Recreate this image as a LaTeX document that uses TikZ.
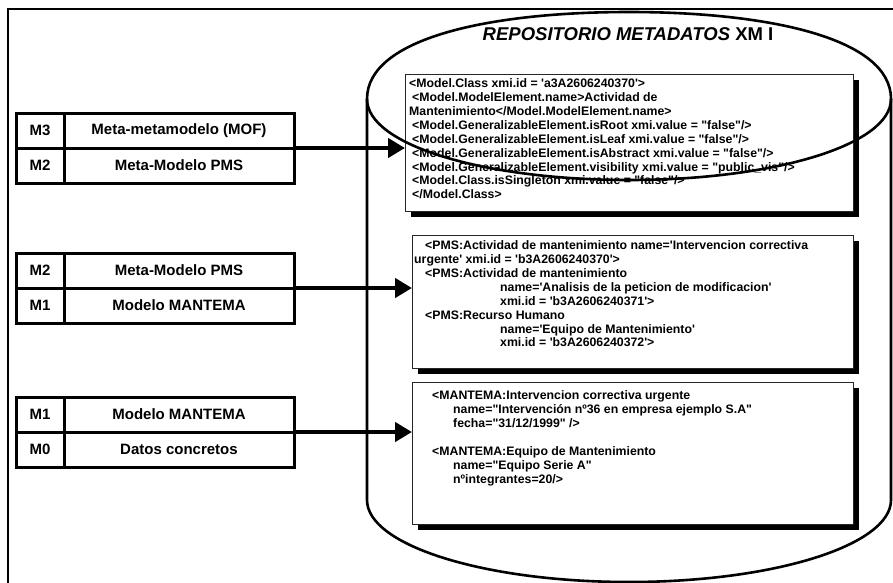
\documentclass[tikz,border=0pt]{standalone}
\usepackage{fontspec}
\setmainfont{Liberation Sans}[Ligatures=TeXOff]
\usetikzlibrary{arrows.meta,positioning,shadows}

\begin{document}
\begin{tikzpicture}[
  x=1pt, y=-1pt,
  font=\bfseries,
  >={Triangle[length=17pt,width=19pt]},
  level/.style={rectangle, draw, line width=3pt, outer sep=0pt, minimum width=48pt, minimum height=35pt, inner sep=0pt, font=\fontsize{15}{17}\selectfont\bfseries},
  layer/.style={level, minimum width=230pt},
  xmibox/.style={rectangle, draw=black!85, line width=0.9pt, fill=white, outer sep=0pt, inner sep=0pt, drop shadow={shadow xshift=6pt, shadow yshift=-6pt, fill=black, opacity=1}},
  xmitext/.style={anchor=north west, inner sep=0pt, align=left, font=\fontsize{12.3}{13.9}\selectfont\bfseries},
  flow/.style={->, line width=4.5pt},
  drum/.style={line width=2.6pt}
]
\useasboundingbox (0,0) rectangle (893,582);
\clip (0,0) rectangle (893,582);
\draw[line width=1.6pt] (8,9) rectangle (910,600);

% repository drum (sides and bottom)
\draw[drum] (367,99) -- (367,500) arc[start angle=180, end angle=360, x radius=262pt, y radius=82pt] -- (891,99);

% metadata boxes
\node[xmibox, anchor=north west, minimum width=448pt, minimum height=137pt] (xmia) at (405,74) {};
\node[xmitext] (xmiatext) at ([shift={(4pt,-4.5pt)}]xmia.north west) {%
<Model.Class xmi.id = 'a3A2606240370'>\\
\hspace*{3pt}<Model.ModelElement.name>Actividad de\\
Mantenimiento</Model.ModelElement.name>\\
\hspace*{3pt}<Model.GeneralizableElement.isRoot xmi.value = "false"/>\\
\hspace*{3pt}<Model.GeneralizableElement.isLeaf xmi.value = "false"/>\\
\hspace*{3pt}<Model.GeneralizableElement.isAbstract xmi.value = "false"/>\\
\hspace*{3pt}<Model.GeneralizableElement.visibility xmi.value = "public\_vis"/>\\
\hspace*{3pt}<Model.Class.isSingleton xmi.value = "false"/>\\
\hspace*{3pt}</Model.Class>};

\node[xmibox, anchor=north west, minimum width=441pt, minimum height=133pt] (xmib) at (412,235) {};
\node[xmitext] (xmibtext) at ([shift={(2pt,-5.5pt)}]xmib.north west) {%
\hspace*{11pt}<PMS:Actividad de mantenimiento name='Intervencion correctiva\\
urgente' xmi.id = 'b3A2606240370'>\\
\hspace*{11pt}<PMS:Actividad de mantenimiento\\
\hspace*{86pt}name='Analisis de la peticion de modificacion'\\
\hspace*{86pt}xmi.id = 'b3A2606240371'>\\
\hspace*{11pt}<PMS:Recurso Humano\\
\hspace*{86pt}name='Equipo de Mantenimiento'\\
\hspace*{86pt}xmi.id = 'b3A2606240372'>};

\node[xmibox, anchor=north west, minimum width=441pt, minimum height=142pt] (xmic) at (412,382) {};
\node[xmitext] (xmictext) at ([shift={(20pt,-8.5pt)}]xmic.north west) {%
<MANTEMA:Intervencion correctiva urgente\\
\hspace*{21pt}name="Intervención nº36 en empresa ejemplo S.A"\\
\hspace*{21pt}fecha="31/12/1999" />\\[13.9pt]
<MANTEMA:Equipo de Mantenimiento\\
\hspace*{21pt}name="Equipo Serie A"\\
\hspace*{21pt}nºintegrantes=20/>};

% repository drum (top, flattened)
\draw[drum] (367,99) .. controls (367,38) and (490,12) .. (629,12)
  .. controls (768,12) and (891,38) .. (891,99)
  .. controls (891,145) and (774,180) .. (629,180)
  .. controls (484,180) and (367,145) .. cycle;
\node (repotitle) at (628,34) {\fontsize{18.5}{21}\selectfont\itshape REPOSITORIO METADATOS \upshape XM I};

% model levels
\node[level, anchor=north west] (mthree) at (16,113) {M3};
\node[layer, right=0pt of mthree] (mof) {Meta-metamodelo (MOF)};
\node[level, below=0pt of mthree] (mtwoa) {M2};
\node[layer, right=0pt of mtwoa] (pmsa) {Meta-Modelo PMS};

\node[level, anchor=north west] (mtwob) at (16,253) {M2};
\node[layer, right=0pt of mtwob] (pmsb) {Meta-Modelo PMS};
\node[level, below=0pt of mtwob] (monea) {M1};
\node[layer, right=0pt of monea] (mantemaa) {Modelo MANTEMA};

\node[level, anchor=north west] (moneb) at (16,397) {M1};
\node[layer, right=0pt of moneb] (mantemab) {Modelo MANTEMA};
\node[level, below=0pt of moneb] (mzero) {M0};
\node[layer, right=0pt of mzero] (datos) {Datos concretos};

\draw[flow] (mof.south east) -- (mof.south east -| xmia.west);
\draw[flow] (pmsb.south east) -- (pmsb.south east -| xmib.west);
\draw[flow] (mantemab.south east) -- (mantemab.south east -| xmic.west);
\end{tikzpicture}
\end{document}
